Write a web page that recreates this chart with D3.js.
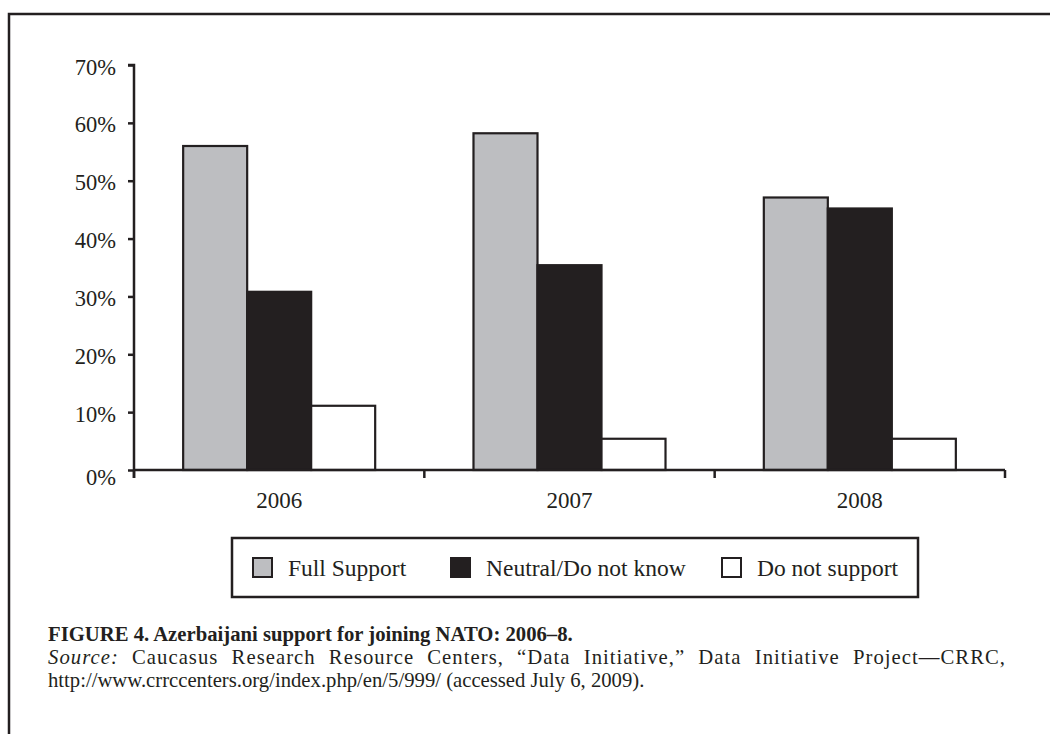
<!DOCTYPE html>
<html>
<head>
<meta charset="utf-8">
<script src="https://cdn.jsdelivr.net/npm/d3@7"></script>
<style>
  html, body { margin: 0; padding: 0; background: #fff; }
  svg { display: block; font-family: "Liberation Serif", "Times New Roman", serif; }
</style>
</head>
<body>
<svg id="chart" width="1050" height="734"></svg>
<script>
const years = ["2006", "2007", "2008"];
const seriesNames = ["Full Support", "Neutral/Do not know", "Do not support"];
const fullSupport = [56, 58.2, 47.1];
const neutral = [30.8, 35.4, 45.2];
const doNotSupport = [11.1, 5.4, 5.4];
const yTicks = [0, 10, 20, 30, 40, 50, 60, 70];
const seriesColors = ["#bdbec1", "#231f20", "#ffffff"];
const captionTitle = "FIGURE 4. Azerbaijani support for joining NATO: 2006–8.";
const captionSourceLabel = "Source:";
const captionSourceText = " Caucasus Research Resource Centers, “Data Initiative,” Data Initiative Project—CRRC,";
const captionLine3 = "http://www.crrccenters.org/index.php/en/5/999/ (accessed July 6, 2009).";

const seriesValues = [fullSupport, neutral, doNotSupport];
const ink = "#231f20";

const svg = d3.select("#chart");

// outer frame (extends past right/bottom edges)
svg.append("path")
  .attr("d", "M9,1000 L9,14 L1100,14")
  .attr("fill", "none").attr("stroke", ink).attr("stroke-width", 2.5);

const x0 = 134, x1 = 1005, yBase = 470, yTop = 65;

const x = d3.scaleBand().domain(years).range([x0, x1]).paddingInner(0).paddingOuter(0);
const xs = d3.scaleBand().domain(seriesNames).range([0, x.bandwidth()]).paddingInner(0).paddingOuter(0.768);
const y = d3.scaleLinear().domain([0, 70]).range([yBase, yTop]);

// bars
const g = svg.append("g");
years.forEach((yr, i) => {
  seriesNames.forEach((s, j) => {
    const v = seriesValues[j][i];
    g.append("rect")
      .attr("x", x(yr) + xs(s))
      .attr("y", y(v))
      .attr("width", xs.bandwidth())
      .attr("height", yBase - y(v))
      .attr("fill", seriesColors[j])
      .attr("stroke", ink)
      .attr("stroke-width", 2.2);
  });
});

// y axis
const yAxis = d3.axisLeft(y).tickValues(yTicks).tickFormat(d => d + "%").tickSize(6).tickPadding(12);
const ya = svg.append("g").attr("transform", `translate(${x0},0)`).call(yAxis);
ya.select(".domain").attr("d", `M-6,${yTop}H0V${yBase + 8}`).attr("stroke", ink).attr("stroke-width", 2.5).attr("fill", "none");
ya.selectAll(".tick line").attr("stroke", ink).attr("stroke-width", 2.5);
ya.selectAll(".tick text").attr("fill", ink).style("font-size", "22.5px")
  .style("font-family", "'Liberation Serif', serif")
  .attr("dy", d => d === 0 ? "0.65em" : "0.4em");

// x axis
const xa = svg.append("g").attr("transform", `translate(0,${yBase})`);
xa.append("line").attr("x1", x0).attr("x2", x1).attr("y1", 0).attr("y2", 0)
  .attr("stroke", ink).attr("stroke-width", 2.5);
const bounds = years.map(d => x(d)).concat([x1]);
xa.selectAll("line.tk").data(bounds).enter().append("line")
  .attr("class", "tk")
  .attr("x1", d => d).attr("x2", d => d).attr("y1", 0).attr("y2", 8)
  .attr("stroke", ink).attr("stroke-width", 2.5);
xa.selectAll("text").data(years).enter().append("text")
  .attr("x", d => x(d) + x.bandwidth() / 2)
  .attr("y", 38)
  .attr("text-anchor", "middle")
  .attr("fill", ink)
  .style("font-size", "23px")
  .text(d => d);

// legend
const lg = svg.append("g");
lg.append("rect").attr("x", 232).attr("y", 538).attr("width", 686).attr("height", 59)
  .attr("fill", "#fff").attr("stroke", ink).attr("stroke-width", 2.5);
const legendX = [253, 451, 722];
seriesNames.forEach((s, j) => {
  lg.append("rect").attr("x", legendX[j]).attr("y", 558).attr("width", 19).attr("height", 19)
    .attr("fill", seriesColors[j]).attr("stroke", ink).attr("stroke-width", 2);
  lg.append("text").attr("x", legendX[j] + 35).attr("y", 576)
    .attr("fill", ink).style("font-size", "23.5px").text(s);
});

// caption
const cap = svg.append("g").attr("fill", ink);
cap.append("text").attr("x", 48).attr("y", 641).style("font-size", "20.7px").style("font-weight", "bold").text(captionTitle);
const t2 = cap.append("text").attr("x", 48).attr("y", 664).style("font-size", "20.7px");
t2.append("tspan").style("font-style", "italic").text(captionSourceLabel);
t2.append("tspan").text(captionSourceText);
// justify line 2 to the right edge, spreading mostly across letters
const full = captionSourceLabel + captionSourceText;
const natural = t2.node().getComputedTextLength();
const nChars = full.length - 1;
const nSpaces = full.split(" ").length - 1;
const gap = 1005 - 48 - natural;
if (gap > 0) {
  const ls = (gap * 0.6) / nChars;
  const ws = (gap * 0.4) / nSpaces;
  t2.style("letter-spacing", ls + "px").style("word-spacing", ws + "px");
}
cap.append("text").attr("x", 48).attr("y", 687).style("font-size", "20.7px").text(captionLine3);
</script>
</body>
</html>
